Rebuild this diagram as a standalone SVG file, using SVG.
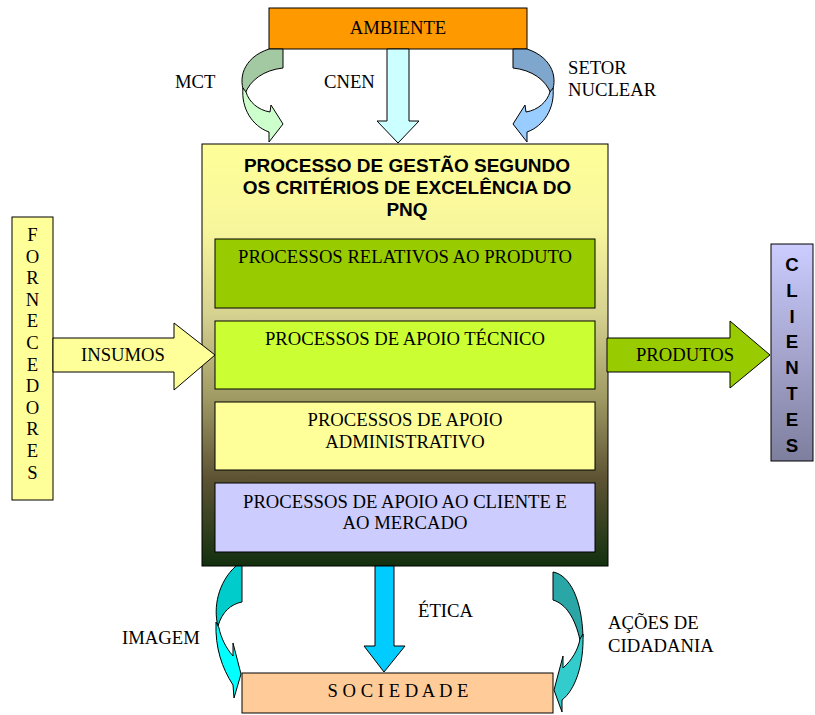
<svg xmlns="http://www.w3.org/2000/svg" width="815" height="715" viewBox="0 0 815 715">
<defs>
<linearGradient id="gMain" x1="0" y1="0" x2="0" y2="1">
<stop offset="0" stop-color="#FFFF99"/>
<stop offset="0.2" stop-color="#F8F69C"/>
<stop offset="0.4" stop-color="#D6D290"/>
<stop offset="0.6" stop-color="#A09A64"/>
<stop offset="0.79" stop-color="#5E5434"/>
<stop offset="1" stop-color="#12300E"/>
</linearGradient>
<linearGradient id="gCli" x1="0" y1="0" x2="0" y2="1">
<stop offset="0" stop-color="#CCCCFF"/>
<stop offset="1" stop-color="#7E7E9E"/>
</linearGradient>
<style>
.s{stroke:#000;stroke-width:1;stroke-linejoin:miter}
.t{font-family:"Liberation Serif","Times New Roman",serif;font-size:18.67px;fill:#000}
.b{font-family:"Liberation Sans",Arial,sans-serif;font-weight:bold;fill:#000}
.m{text-anchor:middle}
</style>
</defs>

<g id="ambiente">
<rect class="s" x="269" y="8" width="258" height="41" fill="#FF9900"/>
<text class="t m" x="398" y="34">AMBIENTE</text>
</g>

<g id="labels">
<text class="t" x="175" y="88">MCT</text>
<text class="t" x="324" y="88">CNEN</text>
<text class="t" x="568" y="74">SETOR</text>
<text class="t" x="568" y="96">NUCLEAR</text>
<text class="t" x="418" y="617">ÉTICA</text>
<text class="t" x="122" y="644">IMAGEM</text>
<text class="t" x="608" y="629">AÇÕES DE</text>
<text class="t" x="608" y="652">CIDADANIA</text>
</g>

<g id="processo">
<rect class="s" x="202" y="144" width="406" height="422" fill="url(#gMain)"/>
<text class="b m" font-size="19" x="407" y="172">PROCESSO DE GESTÃO SEGUNDO</text>
<text class="b m" font-size="19" x="407" y="194">OS CRITÉRIOS DE EXCELÊNCIA DO</text>
<text class="b m" font-size="19" x="407" y="216">PNQ</text>
</g>

<g id="proc-produto">
<rect class="s" x="215" y="239" width="380" height="69" fill="#99CC00"/>
<text class="t m" x="405" y="263">PROCESSOS RELATIVOS AO PRODUTO</text>
</g>
<g id="proc-tecnico">
<rect class="s" x="215" y="321" width="380" height="68" fill="#CCFF33"/>
<text class="t m" x="405" y="345">PROCESSOS DE APOIO TÉCNICO</text>
</g>
<g id="proc-admin">
<rect class="s" x="215" y="402" width="380" height="68" fill="#FFFF99"/>
<text class="t m" x="405" y="426">PROCESSOS DE APOIO</text>
<text class="t m" x="405" y="448">ADMINISTRATIVO</text>
</g>
<g id="proc-cliente">
<rect class="s" x="215" y="483" width="380" height="69" fill="#CCCCFF"/>
<text class="t m" x="405" y="508">PROCESSOS DE APOIO AO CLIENTE E</text>
<text class="t m" x="405" y="529">AO MERCADO</text>
</g>

<g id="fornecedores">
<rect class="s" x="12" y="217" width="41" height="283" fill="#FFFF99"/>
<text class="t m" x="32.5" y="241">F</text>
<text class="t m" x="32.5" y="262.6">O</text>
<text class="t m" x="32.5" y="284.2">R</text>
<text class="t m" x="32.5" y="305.8">N</text>
<text class="t m" x="32.5" y="327.4">E</text>
<text class="t m" x="32.5" y="349">C</text>
<text class="t m" x="32.5" y="370.6">E</text>
<text class="t m" x="32.5" y="392.2">D</text>
<text class="t m" x="32.5" y="413.8">O</text>
<text class="t m" x="32.5" y="435.4">R</text>
<text class="t m" x="32.5" y="457">E</text>
<text class="t m" x="32.5" y="478.6">S</text>
</g>

<g id="clientes">
<rect class="s" x="771" y="244" width="42" height="217" fill="url(#gCli)"/>
<text class="b m" font-size="18.67" x="792" y="271">C</text>
<text class="b m" font-size="18.67" x="792" y="297">L</text>
<text class="b m" font-size="18.67" x="792" y="323">I</text>
<text class="b m" font-size="18.67" x="792" y="348">E</text>
<text class="b m" font-size="18.67" x="792" y="374">N</text>
<text class="b m" font-size="18.67" x="792" y="400">T</text>
<text class="b m" font-size="18.67" x="792" y="426">E</text>
<text class="b m" font-size="18.67" x="792" y="452">S</text>
</g>

<g id="sociedade">
<rect class="s" x="242" y="673" width="311" height="40" fill="#FFCC99"/>
<text class="t m" x="398" y="697">S O C I E D A D E</text>
</g>

<g id="connectors">
<!-- CNEN -->
<path class="s" fill="#CCFFFF" d="M387,49 L409,49 L409,121 L419,121 L398,143 L377,121 L387,121 Z"/>
<!-- MCT -->
<g id="arrow-mct">
<path class="s" fill="#A3C9A3" d="M269,49 L283,49 L283,68 C264,70 250,80 245,94 C238,80 242,58 269,49 Z"/>
<path class="s" fill="#CCFFCC" d="M243,88 C241,108 252,126 269,132 L269,142 L283,124 L271,105 L270,112 C258,110 249,102 246,92 Z"/>
</g>
<!-- SETOR NUCLEAR (mirror) -->
<g id="arrow-setor" transform="translate(796,0) scale(-1,1)">
<path class="s" fill="#7FA6CC" d="M269,49 L283,49 L283,68 C264,70 250,80 245,94 C238,80 242,58 269,49 Z"/>
<path class="s" fill="#99CCFF" d="M243,88 C241,108 252,126 269,132 L269,142 L283,124 L271,105 L270,112 C258,110 249,102 246,92 Z"/>
</g>
<!-- INSUMOS -->
<path class="s" fill="#FFFF99" d="M53,338 L174,338 L174,323 L215,355 L174,390 L174,372 L53,372 Z"/>
<text class="t m" x="123" y="361">INSUMOS</text>
<!-- PRODUTOS -->
<path class="s" fill="#99CC00" d="M607,338 L730,338 L730,321 L770,355 L730,388 L730,372 L607,372 Z"/>
<text class="t m" x="685" y="361">PRODUTOS</text>
<!-- ETICA -->
<path class="s" fill="#00CCFF" d="M375,566 L394,566 L394,646 L405,646 L384,672 L364,646 L375,646 Z"/>
<!-- IMAGEM -->
<g id="arrow-imagem">
<path class="s" fill="#00CCCC" d="M236,566 L242,566 L242,602 C231,604 222,612 218,626 C213,608 218,582 236,566 Z"/>
<path class="s" fill="#00FFFF" d="M216,622 C215,648 222,668 233,685 L234,698 L241,674 L233,643 L233,656 C226,648 221,638 219,628 Z"/>
</g>
<!-- ACOES -->
<g id="arrow-acoes">
<path class="s" fill="#2BA6A6" d="M553,572 C570,575 582,600 583,637 L580,640 C575,618 566,604 553,600 Z"/>
<path class="s" fill="#33CCCC" d="M583,634 C584,665 575,690 562,700 L562,712 L554,690 L563,656 L563,668 C572,660 578,650 580,639 Z"/>
</g>
</g>
</svg>
